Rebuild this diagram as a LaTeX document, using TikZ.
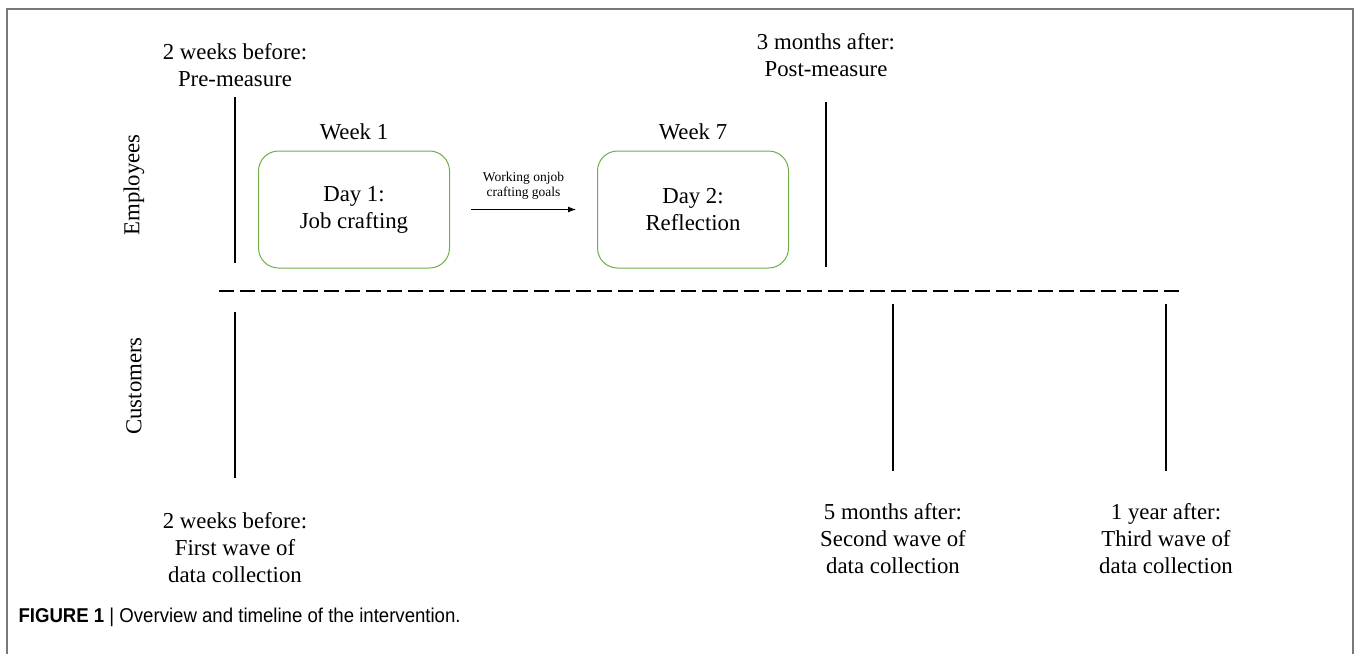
\documentclass[tikz,border=0pt]{standalone}
\usepackage{fontspec}
\setmainfont{Liberation Serif}
\newfontfamily\capfont{Liberation Sans}
\usepackage{tikz}
\usetikzlibrary{positioning,arrows.meta}

\definecolor{boxgreen}{RGB}{112,173,71}
\definecolor{framegray}{RGB}{120,120,120}

\begin{document}
\begin{tikzpicture}[x=1pt, y=-1pt, node distance=77.5pt, on grid,
		txt/.style={align=center, font=\fontsize{22.8}{27}\selectfont},
		side/.style={rotate=90, font=\fontsize{22.8}{27}\selectfont},
		day/.style={draw=boxgreen, line width=1pt, rounded corners=20pt,
			minimum width=191pt, minimum height=117pt, txt},
		tick/.style={line width=1.8pt}]
	\useasboundingbox (0,0) rectangle (1357,654);

	% frame, open at the bottom
	\draw[framegray, line width=2pt] (7,654) -- (7,9) -- (1353,9) -- (1353,654);

	% employees
	\node (emp) [side] at (134,185) {Employees};
	\node (pre) [txt] at (235,65.5) {2 weeks before:\\Pre-measure};
	\node (post) [txt] at (826,55.5) {3 months after:\\Post-measure};
	\node (b1) [day] at (354,209.5) {Day 1:\\Job crafting};
	\node (b2) [day] at (693,209.5) {Day 2:\\Reflection};
	\node (w1) [above=of b1, txt] {Week 1};
	\node (w7) [above=of b2, txt] {Week 7};

	\path[-{Latex[length=8pt,width=6pt]}, line width=1pt]
		(b1) edge[shorten <=21pt, shorten >=21pt] node[above=6pt, align=center,
			font=\fontsize{13.5}{15}\selectfont] {Working onjob\\crafting goals} (b2);

	\coordinate (e1) at (235,97);  \coordinate (e2) at (235,263);
	\coordinate (e3) at (826,102); \coordinate (e4) at (826,267);
	\draw[tick] (e1) -- (e2);
	\draw[tick] (e3) -- (e4);

	% divider
	\coordinate (d1) at (219,291); \coordinate (d2) at (1179,291);
	\draw[line width=2.5pt, dash pattern=on 15pt off 6pt] (d1) -- (d2);

	% customers
	\node (cust) [side] at (134,386) {Customers};
	\node (c1) [txt] at (235,547.5) {2 weeks before:\\First wave of\\data collection};
	\node (c2) [txt] at (893,539) {5 months after:\\Second wave of\\data collection};
	\node (c3) [txt] at (1166,539) {1 year after:\\Third wave of\\data collection};

	\coordinate (k1) at (235,312);  \coordinate (k2) at (235,478);
	\coordinate (k3) at (893,304);  \coordinate (k4) at (893,471);
	\coordinate (k5) at (1166,304); \coordinate (k6) at (1166,471);
	\draw[tick] (k1) -- (k2);
	\draw[tick] (k3) -- (k4);
	\draw[tick] (k5) -- (k6);

	\node (cap) [anchor=west, font=\capfont\fontsize{20}{22}\selectfont] at (15,617)
		{\scalebox{0.93}[1]{\textbf{FIGURE 1} | Overview and timeline of the intervention.}};
\end{tikzpicture}
\end{document}
